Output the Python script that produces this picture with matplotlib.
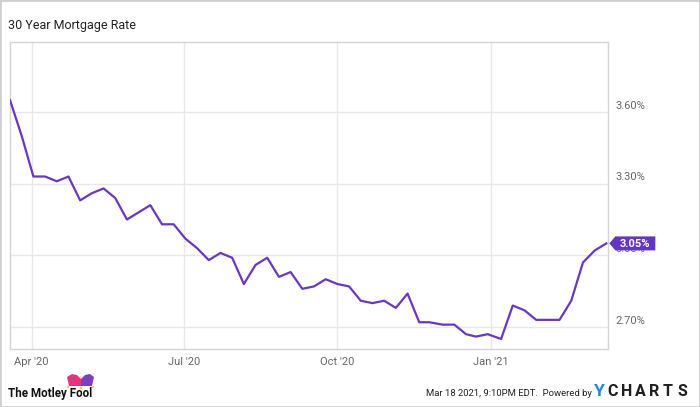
import matplotlib
matplotlib.use("Agg")
import matplotlib.pyplot as plt
import matplotlib.dates as mdates
import matplotlib.transforms as mtransforms
from matplotlib.patches import Polygon, Rectangle, Circle
import pandas as pd

# Weekly 30 year fixed mortgage rate (%)
dates = pd.to_datetime([
    "2020-03-19", "2020-03-26", "2020-04-02", "2020-04-09", "2020-04-16", "2020-04-23",
    "2020-04-30", "2020-05-07", "2020-05-14", "2020-05-21", "2020-05-28", "2020-06-04",
    "2020-06-11", "2020-06-18", "2020-06-25", "2020-07-02", "2020-07-09", "2020-07-16",
    "2020-07-23", "2020-07-30", "2020-08-06", "2020-08-13", "2020-08-20", "2020-08-27",
    "2020-09-03", "2020-09-10", "2020-09-17", "2020-09-24", "2020-10-01", "2020-10-08",
    "2020-10-15", "2020-10-22", "2020-10-29", "2020-11-05", "2020-11-12", "2020-11-19",
    "2020-11-25", "2020-12-03", "2020-12-10", "2020-12-17", "2020-12-23", "2020-12-30",
    "2021-01-07", "2021-01-14", "2021-01-21", "2021-01-28", "2021-02-04", "2021-02-11",
    "2021-02-18", "2021-02-25", "2021-03-04", "2021-03-11",
])
rates = [
    3.65, 3.50, 3.33, 3.33, 3.31, 3.33,
    3.23, 3.26, 3.28, 3.24, 3.15, 3.18,
    3.21, 3.13, 3.13, 3.07, 3.03, 2.98,
    3.01, 2.99, 2.88, 2.96, 2.99, 2.91,
    2.93, 2.86, 2.87, 2.90, 2.88, 2.87,
    2.81, 2.80, 2.81, 2.78, 2.84, 2.72,
    2.72, 2.71, 2.71, 2.67, 2.66, 2.67,
    2.65, 2.79, 2.77, 2.73, 2.73, 2.73,
    2.81, 2.97, 3.02, 3.05,
]

y_ticks = [2.70, 3.00, 3.30, 3.60]
y_labels = ["2.70%", "3.00%", "3.30%", "3.60%"]
x_ticks = pd.to_datetime(["2020-04-01", "2020-07-01", "2020-10-01", "2021-01-01"])
x_labels = ["Apr '20", "Jul '20", "Oct '20", "Jan '21"]

line_color = "#6637d0"
grid_color = "#e8e8e8"
border_color = "#d4d4d4"
label_color = "#666666"

plt.rcParams["font.family"] = ["Roboto", "DejaVu Sans"]

W, H = 700, 407
fig = plt.figure(figsize=(W / 100, H / 100), dpi=100)
ax = fig.add_axes([10 / W, 1 - 349 / H, 598 / W, 307 / H])

ax.plot(dates, rates, color=line_color, lw=1.6, solid_joinstyle="round", zorder=3)

ax.set_xlim(pd.Timestamp("2020-03-19"), pd.Timestamp("2021-03-12"))
ax.set_ylim(2.608, 3.893)

ax.set_xticks(x_ticks)
ax.set_xticklabels(x_labels)
ax.set_yticks(y_ticks)
ax.set_yticklabels([])
ax.tick_params(axis="both", length=0)
ax.tick_params(axis="x", labelsize=8, labelcolor=label_color, pad=6)
ax.grid(True, color=grid_color, lw=1)
ax.set_axisbelow(True)
for sp in ax.spines.values():
    sp.set_color(border_color)
    sp.set_linewidth(1)

# right-hand labels sit just above their gridlines
lab_trans = mtransforms.blended_transform_factory(ax.transAxes, ax.transData)
for v, lab in zip(y_ticks, y_labels):
    ax.text(1.012, v + 0.006, lab, transform=lab_trans, fontsize=8,
            color=label_color, va="bottom", ha="left")

# last value badge
last_x = mdates.date2num(dates[-1])
last_y = rates[-1]
badge_trans = (mtransforms.Affine2D().scale(1 / fig.dpi) + fig.dpi_scale_trans
               + mtransforms.ScaledTranslation(last_x, last_y, ax.transData))
badge = Polygon([(3, 0), (9, 7), (49, 7), (49, -7), (9, -7)], closed=True,
                transform=badge_trans, facecolor="#6236c9", edgecolor="none",
                zorder=10, clip_on=False)
ax.add_artist(badge)
ax.text(29, -0.5, f"{last_y:.2f}%", transform=badge_trans, color="white",
        fontsize=8, fontweight="bold", ha="center", va="center", zorder=11,
        clip_on=False)

# title
fig.text(8 / W, 1 - 26 / H, "30 Year Mortgage Rate", fontsize=9,
         color="#222222", va="center", ha="left")

# footer: Motley Fool logo
def px(x, y):
    return (x / W, 1 - y / H)

fig.text(*px(8, 393), "The Motley Fool", fontsize=8.4, fontweight="bold",
         color="#111111", va="center", ha="left")
pink = Polygon([px(69, 386), px(67, 377), px(72, 374), px(77, 375), px(81, 379), px(81, 386)],
               closed=True, transform=fig.transFigure, facecolor="#e8337c", edgecolor="none")
purple = Polygon([px(81, 386), px(81, 379), px(85, 375), px(90, 374), px(94, 377), px(92, 386)],
                 closed=True, transform=fig.transFigure, facecolor="#7b3fc4", edgecolor="none")
fig.add_artist(pink)
fig.add_artist(purple)
for cx, cy in [(68, 387), (81, 388), (93, 387)]:
    fig.add_artist(Circle(px(cx, cy), 1.3 / W, transform=fig.transFigure,
                          facecolor="#f5b400", edgecolor="none"))

# footer: timestamp and YCharts
fig.text(*px(592, 393), "Mar 18 2021, 9:10PM EDT.  Powered by", fontsize=6.8,
         color="#222222", va="center", ha="right")
fig.text(*px(594, 392), "Y", fontsize=12.5, fontweight="bold", color="#1a8ce6",
         va="center", ha="left")
for i, ch in enumerate("CHARTS"):
    fig.text(*px(607 + i * 14, 392), ch, fontsize=11.5, fontweight="bold",
             color="#1f1f1f", va="center", ha="left")

# outer frame
fig.add_artist(Rectangle((0, 0), 1, 1, transform=fig.transFigure, fill=False,
                         edgecolor="#cfcfcf", lw=2))

fig.savefig("out.png", dpi=100)
